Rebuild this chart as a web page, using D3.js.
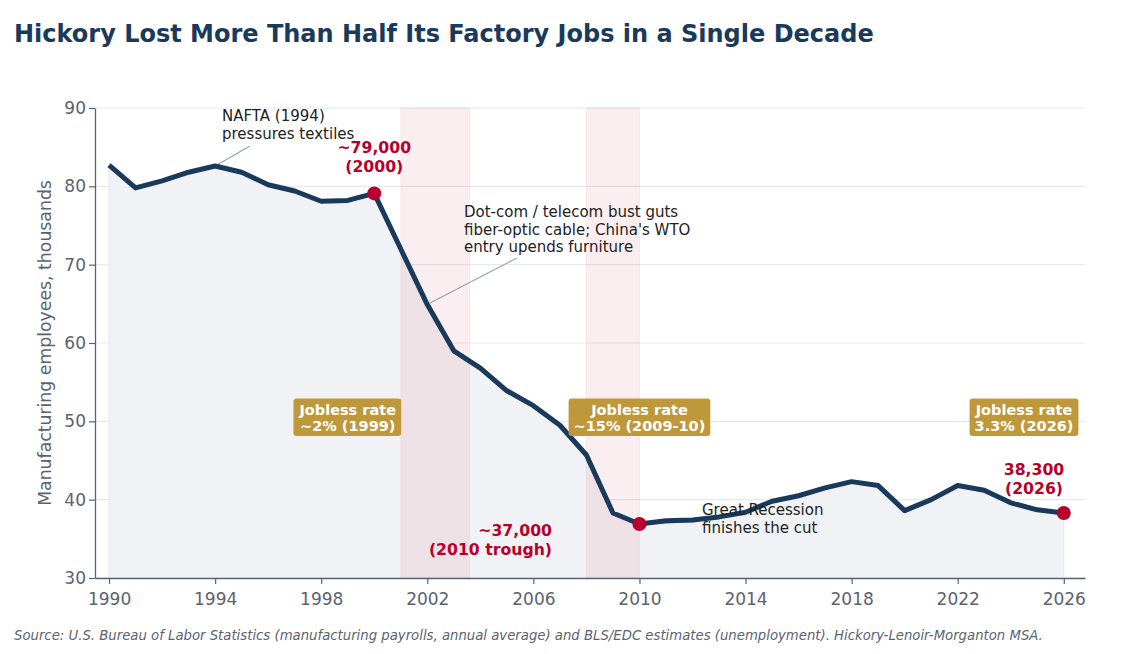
<!DOCTYPE html>
<html>
<head>
<meta charset="utf-8">
<script src="https://cdn.jsdelivr.net/npm/d3@7"></script>
<style>
  body { margin: 0; background: #fff; font-family: "DejaVu Sans", sans-serif; }
</style>
</head>
<body>
<div id="chart"></div>
<script>
// dados
const anos = d3.range(1990, 2027);
const empregos = [82.7, 79.8, 80.7, 81.8, 82.6, 81.8, 80.2, 79.4, 78.1, 78.2,
  79.1, 72.0, 64.9, 59.0, 56.8, 53.9, 52.0, 49.5, 45.7, 38.3,
  36.9, 37.3, 37.4, 37.8, 38.4, 39.8, 40.5, 41.5, 42.3, 41.8,
  38.6, 40.0, 41.8, 41.2, 39.6, 38.7, 38.3];
const ticksY = [30, 40, 50, 60, 70, 80, 90];
const ticksX = [1990, 1994, 1998, 2002, 2006, 2010, 2014, 2018, 2022, 2026];
const faixas = [[2001, 2003.6], [2008, 2010]];
const destaques = [2000, 2010, 2026];
const caixas = [
  { ano: 1999.0, valor: 51, linhas: ["Jobless rate", "~2% (1999)"] },
  { ano: 2010, valor: 51, linhas: ["Jobless rate", "~15% (2009-10)"] },
  { ano: 2024.5, valor: 51, linhas: ["Jobless rate", "3.3% (2026)"] }
];

const width = 1125, height = 654;
const margin = { top: 108, right: 40, bottom: 76, left: 95 };
const corLinha = "#1a3a5c", corVermelho = "#b8002a", corCinza = "#5b6370";

const svg = d3.select("#chart").append("svg")
  .attr("width", width).attr("height", height)
  .style("font-family", "DejaVu Sans, sans-serif");

const x = d3.scaleLinear().domain([1989.47, 2026.8]).range([margin.left, width - margin.right]);
const y = d3.scaleLinear().domain([30, 90]).range([height - margin.bottom, margin.top]);

const dados = anos.map((a, i) => ({ ano: a, valor: empregos[i] }));

// grade
svg.append("g").selectAll("line")
  .data(ticksY).join("line")
  .attr("x1", x.range()[0]).attr("x2", x.range()[1])
  .attr("y1", d => y(d)).attr("y2", d => y(d))
  .attr("stroke", "#e6e9ee").attr("stroke-width", 1.2);

// area
svg.append("path")
  .datum(dados)
  .attr("fill", "#f1f2f5")
  .attr("stroke", "#e4e7ec")
  .attr("stroke-width", 1)
  .attr("d", d3.area().x(d => x(d.ano)).y0(y(30)).y1(d => y(d.valor)));

// faixas de recessao
svg.append("g").selectAll("rect")
  .data(faixas).join("rect")
  .attr("x", d => x(d[0])).attr("width", d => x(d[1]) - x(d[0]))
  .attr("y", y(90)).attr("height", y(30) - y(90))
  .attr("fill", "#c8102e").attr("fill-opacity", 0.07)
  .attr("stroke", "#c8102e").attr("stroke-opacity", 0.06);

// eixos
const eixoX = svg.append("g")
  .attr("transform", `translate(0,${y(30)})`)
  .call(d3.axisBottom(x).tickValues(ticksX).tickFormat(d3.format("d")).tickSize(6).tickSizeOuter(0));
const eixoY = svg.append("g")
  .attr("transform", `translate(${margin.left},0)`)
  .call(d3.axisLeft(y).tickValues(ticksY).tickSize(6).tickSizeOuter(0));
[eixoX, eixoY].forEach(g => {
  g.select(".domain").attr("stroke", corCinza).attr("stroke-width", 1.3);
  g.selectAll(".tick line").attr("stroke", corCinza).attr("stroke-width", 1.2);
  g.selectAll("text").attr("fill", corCinza).style("font-size", "17px")
    .style("font-family", "DejaVu Sans, sans-serif");
});
eixoX.selectAll("text").attr("dy", "1.05em");

svg.append("text")
  .attr("transform", `translate(51,${(y(30) + y(90)) / 2}) rotate(-90)`)
  .attr("text-anchor", "middle")
  .attr("fill", corCinza).style("font-size", "17.3px")
  .text("Manufacturing employees, thousands");

// linhas de anotacao
const conectores = [
  [[1995.31, 85.15], [1994.0, 82.6]],
  [[2005.38, 70.85], [2002.1, 65.1]],
  [[2012.1, 37.2], [2010.2, 36.9]]
];
svg.append("g").selectAll("line")
  .data(conectores).join("line")
  .attr("x1", d => x(d[0][0])).attr("y1", d => y(d[0][1]))
  .attr("x2", d => x(d[1][0])).attr("y2", d => y(d[1][1]))
  .attr("stroke", "#97a3b0").attr("stroke-width", 1.2);

// linha principal
svg.append("path")
  .datum(dados)
  .attr("fill", "none")
  .attr("stroke", corLinha)
  .attr("stroke-width", 5)
  .attr("stroke-linejoin", "round")
  .attr("d", d3.line().x(d => x(d.ano)).y(d => y(d.valor)));

svg.append("g").selectAll("circle")
  .data(dados.filter(d => destaques.includes(d.ano))).join("circle")
  .attr("cx", d => x(d.ano)).attr("cy", d => y(d.valor))
  .attr("r", 7).attr("fill", corVermelho);

// textos
function bloco(xp, yp, linhas, opts) {
  const t = svg.append("text")
    .attr("x", xp).attr("y", yp)
    .attr("text-anchor", opts.anchor || "start")
    .attr("fill", opts.cor)
    .style("font-size", opts.size + "px")
    .style("font-weight", opts.bold ? "bold" : "normal");
  linhas.forEach((l, i) => t.append("tspan").attr("x", xp).attr("dy", i ? opts.lh : 0).text(l));
  return t;
}

bloco(222, 121, ["NAFTA (1994)", "pressures textiles"], { cor: "#222", size: 15, lh: 17.5 });
bloco(464, 217, ["Dot-com / telecom bust guts", "fiber-optic cable; China's WTO", "entry upends furniture"], { cor: "#222", size: 15, lh: 17.5 });
bloco(702, 515, ["Great Recession", "finishes the cut"], { cor: "#222", size: 15, lh: 17.5 });

bloco(x(2000), 153, ["~79,000", "(2000)"], { cor: corVermelho, size: 15.7, lh: 18.5, bold: true, anchor: "middle" });
bloco(552, 536, ["~37,000", "(2010 trough)"], { cor: corVermelho, size: 15.7, lh: 18.5, bold: true, anchor: "end" });
bloco(1034, 475, ["38,300", "(2026)"], { cor: corVermelho, size: 15.7, lh: 18.5, bold: true, anchor: "middle" });

// caixas de desemprego
caixas.forEach(c => {
  const cx = x(c.ano), cy = y(c.valor);
  const g = svg.append("g");
  const t = g.append("text")
    .attr("text-anchor", "middle").attr("fill", "#fff")
    .style("font-size", "14.5px").style("font-weight", "bold");
  c.linhas.forEach((l, i) => t.append("tspan").attr("x", cx).attr("y", cy + 1 + i * 16.5).text(l));
  const bb = t.node().getBBox();
  g.insert("rect", "text")
    .attr("x", bb.x - 5).attr("y", bb.y - 3)
    .attr("width", bb.width + 10).attr("height", bb.height + 5)
    .attr("rx", 3).attr("fill", "#c0983c");
});

// titulo e fonte
svg.append("text")
  .attr("x", 14).attr("y", 42)
  .attr("fill", corLinha)
  .style("font-size", "24px").style("font-weight", "bold")
  .text("Hickory Lost More Than Half Its Factory Jobs in a Single Decade");

svg.append("text")
  .attr("x", 14).attr("y", 640)
  .attr("fill", corCinza)
  .style("font-size", "13.25px").style("font-style", "italic")
  .text("Source: U.S. Bureau of Labor Statistics (manufacturing payrolls, annual average) and BLS/EDC estimates (unemployment). Hickory-Lenoir-Morganton MSA.");
</script>
</body>
</html>
